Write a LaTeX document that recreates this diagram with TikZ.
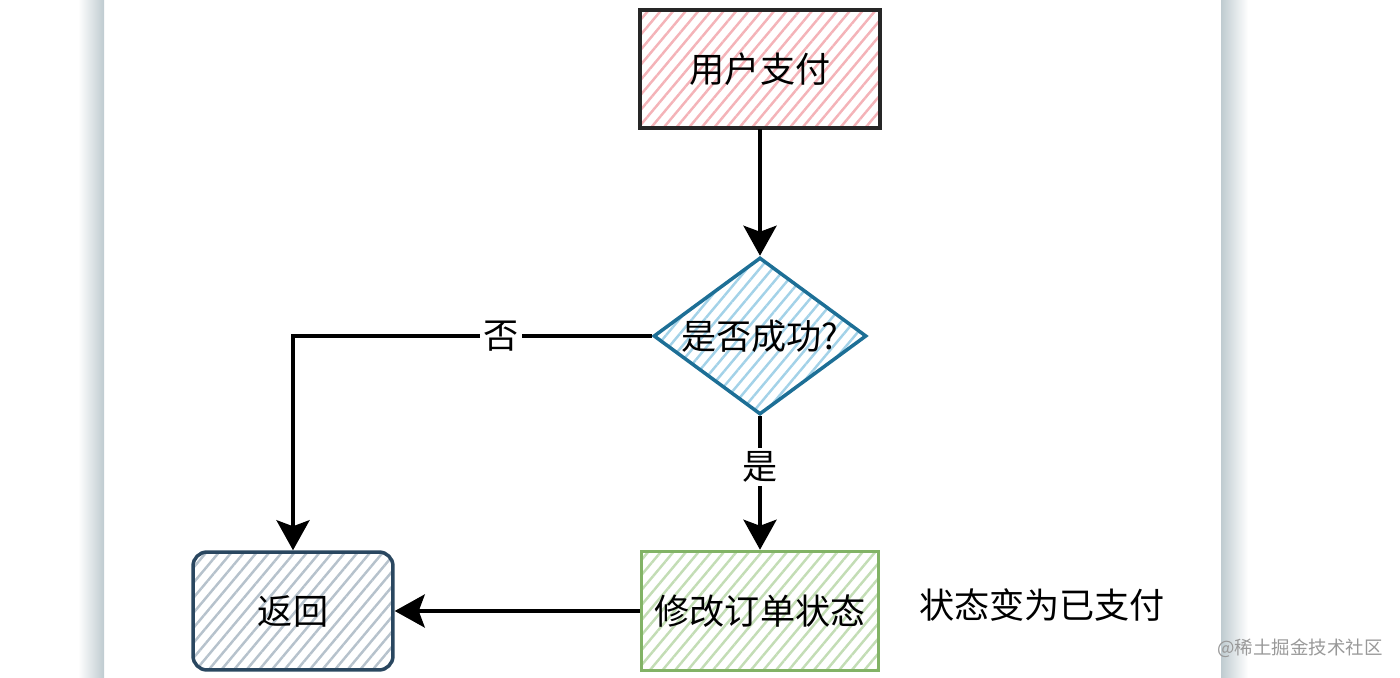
\documentclass[tikz,border=0pt]{standalone}
\usepackage{fontspec}
\setmainfont{Noto Sans CJK SC}
\usetikzlibrary{arrows.meta, positioning, shapes.geometric, patterns.meta}
\definecolor{PayHatch}{HTML}{F4B3B8}
\definecolor{CheckBlue}{HTML}{1D6F96}
\definecolor{CheckHatch}{HTML}{A3D2E8}
\definecolor{UpdGreen}{HTML}{82B366}
\definecolor{UpdHatch}{HTML}{C3DDB5}
\definecolor{BackNavy}{HTML}{2A4760}
\definecolor{BackHatch}{HTML}{B6C2CC}
\definecolor{EdgeGray}{HTML}{BFCBD0}

\begin{document}
\begin{tikzpicture}[x=0.02cm, y=-0.02cm,
  font=\fontsize{20}{23}\selectfont,
  hatch/.style={pattern={Lines[angle=50, distance=5.5pt, line width=1.4pt]}, pattern color=#1},
  flowbox/.style={draw, line width=2pt, minimum width=4.8cm, minimum height=2.36cm, inner sep=0pt},
  flowarrow/.style={line width=2.2pt, -{Stealth[length=0.6cm, width=0.66cm, inset=0.12cm]}},
  cond/.style={fill=white, inner sep=2pt}]
  % page edges
  \shade[left color=white, right color=EdgeGray] (78,0) rectangle (104,678);
  \shade[left color=EdgeGray, right color=white] (1221,0) rectangle (1248,678);
  % steps
  \node[flowbox, hatch=PayHatch, draw=black!85] (pay) at (760,69) {用户支付};
  \node[diamond, draw=CheckBlue, line width=2pt, hatch=CheckHatch, aspect=1.36,
        minimum width=4.26cm, minimum height=3.14cm, inner sep=0pt] (check) at (760,336) {是否成功?};
  \node[flowbox, hatch=UpdHatch, draw=UpdGreen, minimum width=4.74cm, minimum height=2.38cm] (update) at (760,611) {修改订单状态};
  \node[flowbox, hatch=BackHatch, draw=BackNavy, rounded corners=8pt,
        minimum width=4.0cm, minimum height=2.36cm] (back) at (293,611) {返回};
  % note
  \node (note) at (1042,605) {状态变为已支付};
  % edges
  \draw[flowarrow] (pay) -- (check);
  \draw[flowarrow] (check.west) -| (back.north) node[cond, pos=0.21] (no) {否};
  \draw[flowarrow] (check.south) -- (update.north) node[cond, pos=0.38] (yes) {是};
  \draw[flowarrow] (update.west) -- (back.east);
  % watermark
  \node[text=black!40, font=\fontsize{10.5}{12}\selectfont] (mark) at (1300,648) {@稀土掘金技术社区};
  \useasboundingbox (0,0) rectangle (1400,678);
\end{tikzpicture}
\end{document}
